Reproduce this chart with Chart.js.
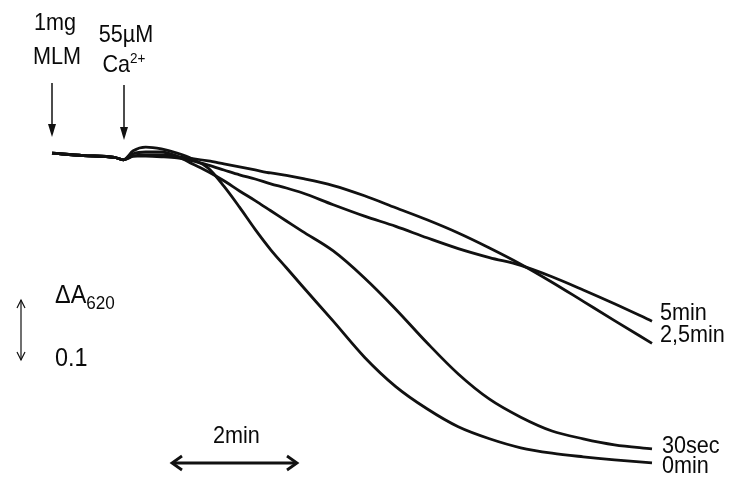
<!DOCTYPE html>
<html>
<head>
<meta charset="utf-8">
<script src="https://cdn.jsdelivr.net/npm/chart.js@4"></script>
<style>
  body { margin: 0; background: #fff; }
  #wrap { position: relative; width: 730px; height: 477px; }
  .lbl {
    position: absolute; font-family: "Liberation Sans", Arial, sans-serif;
    font-size: 24px; line-height: 1; color: #0a0a0a; white-space: nowrap;
    transform: scaleX(0.9); transform-origin: left top;
  }
  .ctr { transform-origin: center top; text-align: center; }
  sup { font-size: 15px; line-height: 0; }
  sub { font-size: 19px; line-height: 0; }
</style>
</head>
<body>
<div id="wrap">
  <canvas id="chart"></canvas>
  <div class="lbl ctr" style="left:25px;top:10px;width:60px">1mg</div>
  <div class="lbl ctr" style="left:25px;top:44px;width:64px">MLM</div>
  <div class="lbl ctr" style="left:92px;top:22px;width:68px">55µM</div>
  <div class="lbl ctr" style="left:92px;top:52px;width:64px">Ca<sup>2+</sup></div>
  <div class="lbl" style="left:55px;top:281px;font-size:26px">ΔA<sub>620</sub></div>
  <div class="lbl" style="left:55px;top:344px;font-size:26px">0.1</div>
  <div class="lbl" style="left:213px;top:423px">2min</div>
  <div class="lbl" style="left:660px;top:300px">5min</div>
  <div class="lbl" style="left:660px;top:322px">2,5min</div>
  <div class="lbl" style="left:662px;top:433px">30sec</div>
  <div class="lbl" style="left:662px;top:453px">0min</div>
</div>
<script>
// time in minutes after MLM addition
const times = [0, 0.5, 1.0, 1.14, 1.3, 1.5, 1.75, 2.0, 2.25, 2.5, 2.75, 3.0, 3.25, 3.5, 3.75,
               4.0, 4.5, 5.0, 5.5, 6.0, 6.5, 7.0, 7.5, 8.0, 8.5, 9.0, 9.6]

// change of absorbance at 620 nm
const min0 = [0.003, -0.001, -0.004, -0.008, 0.007, 0.013, 0.010, 0.003, -0.007, -0.022, -0.052, -0.087,
              -0.124, -0.158, -0.188, -0.218, -0.277, -0.337, -0.386, -0.423, -0.453, -0.473, -0.488,
              -0.497, -0.503, -0.508, -0.513]
const sec30 = [0.003, -0.001, -0.004, -0.008, 0.002, 0.005, 0.005, -0.002, -0.015, -0.028, -0.043, -0.060,
               -0.076, -0.093, -0.110, -0.127, -0.160, -0.205, -0.257, -0.313, -0.365, -0.407, -0.437,
               -0.460, -0.473, -0.483, -0.490]
const min25 = [0.003, -0.001, -0.004, -0.008, -0.002, 0.000, 0.000, -0.003, -0.006, -0.010, -0.015, -0.020,
               -0.025, -0.030, -0.034, -0.039, -0.051, -0.068, -0.088, -0.108, -0.130, -0.155, -0.182,
               -0.212, -0.244, -0.276, -0.314]
const min5 = [0.003, -0.001, -0.004, -0.008, -0.002, -0.002, -0.003, -0.005, -0.010, -0.017, -0.025, -0.033,
              -0.040, -0.048, -0.055, -0.063, -0.083, -0.102, -0.119, -0.138, -0.156, -0.171, -0.184,
              -0.203, -0.225, -0.248, -0.277]

const seriesNames = ['0min', '30sec', '2,5min', '5min']
const seriesVals = [min0, sec30, min25, min5]

function arrowHead(ctx, x, y, dx, dy, len, half, filled){
    // dx,dy = unit direction the arrow points to
    const bx = x - dx*len, by = y - dy*len
    const px = -dy*half, py = dx*half
    ctx.beginPath()
    ctx.moveTo(bx+px, by+py)
    ctx.lineTo(x, y)
    ctx.lineTo(bx-px, by-py)
    if(filled){ ctx.closePath(); ctx.fill() } else ctx.stroke()
}

const arrows = {
    id: 'arrows',
    afterDraw(chart){
        const ctx = chart.ctx
        ctx.save()
        ctx.strokeStyle = '#111'
        ctx.fillStyle = '#111'
        // addition arrows
        ctx.lineWidth = 1.5
        ;[[52, 83, 137], [124, 85, 140]].forEach(a=>{
            ctx.beginPath(); ctx.moveTo(a[0], a[1]); ctx.lineTo(a[0], a[2]-6); ctx.stroke()
            arrowHead(ctx, a[0], a[2], 0, 1, 13, 4, true)
        })
        // dA scale bar
        ctx.lineWidth = 1.2
        ctx.beginPath(); ctx.moveTo(21, 300); ctx.lineTo(21, 360); ctx.stroke()
        arrowHead(ctx, 21, 300, 0, -1, 8, 4, false)
        arrowHead(ctx, 21, 360, 0, 1, 8, 4, false)
        // time scale bar
        ctx.lineWidth = 2.8
        ctx.beginPath(); ctx.moveTo(173, 463); ctx.lineTo(296, 463); ctx.stroke()
        arrowHead(ctx, 172, 463, -1, 0, 10, 7, false)
        arrowHead(ctx, 297, 463, 1, 0, 10, 7, false)
        ctx.restore()
    }
}

const ctx = document.getElementById('chart').getContext('2d')
new Chart(ctx, {
    type: 'line',
    data: {
        datasets: seriesNames.map((name, i)=>({
            label: name,
            data: times.map((t, j)=>({x: t, y: seriesVals[i][j]})),
            borderColor: '#111',
            borderWidth: 2.8,
            pointRadius: 0,
            cubicInterpolationMode: 'monotone',
            fill: false
        }))
    },
    options: {
        responsive: true,
        maintainAspectRatio: false,
        animation: false,
        layout: { padding: 0 },
        plugins: { legend: { display: false }, tooltip: { enabled: false } },
        scales: {
            x: { type: 'linear', display: false, min: -0.832, max: 10.848 },
            y: { display: false, min: -0.5367, max: 0.2583 }
        }
    },
    plugins: [arrows]
})
</script>
</body>
</html>
